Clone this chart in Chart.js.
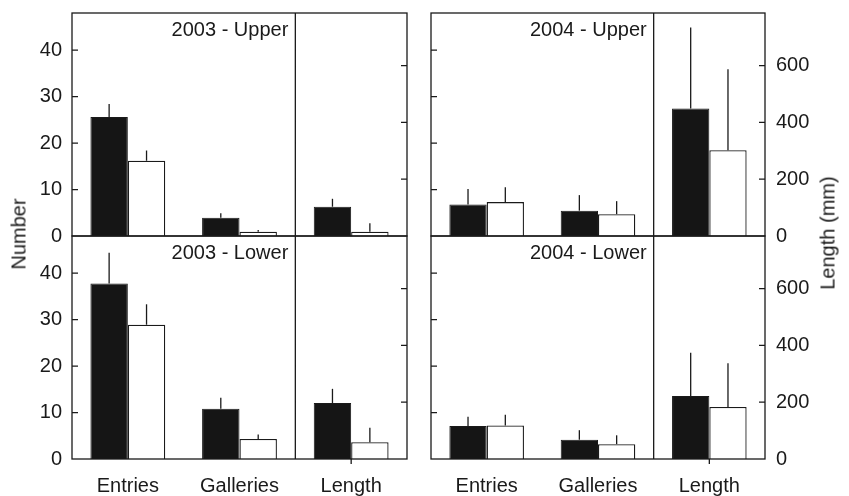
<!DOCTYPE html>
<html>
<head>
<meta charset="utf-8">
<script src="https://cdn.jsdelivr.net/npm/chart.js@4.4.1/dist/chart.umd.min.js"></script>
<style>
  html, body { margin: 0; padding: 0; background: #fff; }
  #wrap { position: relative; width: 849px; height: 496px; overflow: hidden; }
  #wrap canvas { position: absolute; }
  .axis-title {
    position: absolute;
    font: 20px "Liberation Sans", Arial, sans-serif;
    color: #1a1a1a;
    white-space: nowrap;
    transform: translate(-50%, -50%) rotate(-90deg);
  }
</style>
</head>
<body>
<div id="wrap">
  <canvas id="p0" width="420" height="250" style="left:0;top:0;width:420px;height:250px"></canvas>
  <canvas id="p1" width="420" height="270" style="left:0;top:226px;width:420px;height:270px"></canvas>
  <canvas id="p2" width="429" height="250" style="left:420px;top:0;width:429px;height:250px"></canvas>
  <canvas id="p3" width="429" height="270" style="left:420px;top:226px;width:429px;height:270px"></canvas>
  <div class="axis-title" style="left:19px;top:234px">Number</div>
  <div class="axis-title" style="left:828px;top:233px">Length (mm)</div>
</div>
<script>
const categories = ['Entries', 'Galleries', 'Length'];
const panelTitles = ['2003 - Upper', '2003 - Lower', '2004 - Upper', '2004 - Lower'];

// per panel: Entries, Galleries (number), Length (mm)
const blackMean = [
    [25.6, 3.95, 103],
    [37.8, 10.8, 197],
    [6.8, 5.45, 449],
    [7.1, 4.15, 222],
];
const blackErr = [
    [2.8, 0.95, 28],
    [6.6, 2.4, 50],
    [3.3, 3.35, 285],
    [2.0, 2.05, 152],
];
const whiteMean = [
    [16.2, 0.9, 15],
    [28.9, 4.3, 59],
    [7.3, 4.7, 302],
    [7.2, 3.2, 183],
];
const whiteErr = [
    [2.2, 0.4, 30],
    [4.4, 1.0, 51],
    [3.2, 2.8, 285],
    [2.3, 1.9, 154],
];

const numberTicks = [0, 10, 20, 30, 40];
const lengthTicks = [0, 200, 400, 600];
const numberMax = 48;
const lengthMax = 785;

const ink = '#1a1a1a';
const fontFamily = '"Liberation Sans", Arial, sans-serif';
Chart.defaults.font.family = fontFamily;
Chart.defaults.font.size = 20;
Chart.defaults.color = ink;

// no label overhang padding, so the plot area sits where the layout says
const noOverhang = (s) => {
    s.paddingTop = 0;
    s.paddingBottom = 0;
    s.paddingLeft = 0;
    s.paddingRight = 0;
};

// frame, separator, inner ticks, error bars and panel title
const deco = (panel, lower) => ({
    id: 'deco' + panel,
    afterDatasetsDraw(chart) {
        const { ctx, chartArea: a, scales } = chart;
        const x = scales.x, y = scales.y, y2 = scales.y2;
        ctx.save();
        ctx.strokeStyle = ink;
        ctx.lineWidth = 1.3;

        chart.data.datasets.forEach((ds, i) => {
            const sc = ds.yAxisID === 'y2' ? y2 : y;
            chart.getDatasetMeta(i).data.forEach((bar, j) => {
                const v = ds.data[j];
                if (v === null) return;
                const top = sc.getPixelForValue(v + ds.errors[j]);
                ctx.beginPath();
                ctx.moveTo(bar.x, bar.y);
                ctx.lineTo(bar.x, top);
                ctx.stroke();
            });
        });

        ctx.strokeRect(a.left, a.top, a.width, a.height);
        const sx = (x.getPixelForValue(1) + x.getPixelForValue(2)) / 2;
        ctx.beginPath();
        ctx.moveTo(sx, a.top);
        ctx.lineTo(sx, a.bottom);
        numberTicks.filter(v => v > 0).forEach((v) => {
            const py = y.getPixelForValue(v);
            ctx.moveTo(a.left, py);
            ctx.lineTo(a.left + 6, py);
        });
        lengthTicks.filter(v => v > 0).forEach((v) => {
            const py = y2.getPixelForValue(v);
            ctx.moveTo(a.right - 6, py);
            ctx.lineTo(a.right, py);
        });
        if (lower) {
            const lx = x.getPixelForValue(2);
            ctx.moveTo(lx, a.bottom);
            ctx.lineTo(lx, a.bottom + 5);
        }
        ctx.stroke();

        ctx.fillStyle = ink;
        ctx.font = '20px ' + fontFamily;
        ctx.textAlign = 'right';
        ctx.textBaseline = 'alphabetic';
        ctx.fillText(panelTitles[panel], sx - 7, a.top + 23);
        ctx.restore();
    }
});

const makeChart = (id, panel, left, lower) => {
    const b = blackMean[panel], be = blackErr[panel];
    const w = whiteMean[panel], we = whiteErr[panel];
    const black = { backgroundColor: '#151515', borderColor: ink, borderWidth: 1 };
    const white = { backgroundColor: '#ffffff', borderColor: ink, borderWidth: 1.3 };

    new Chart(document.getElementById(id), {
        type: 'bar',
        data: {
            labels: categories,
            datasets: [
                { ...black, yAxisID: 'y', data: [b[0], b[1], null], errors: [be[0], be[1], null] },
                { ...white, yAxisID: 'y', data: [w[0], w[1], null], errors: [we[0], we[1], null] },
                { ...black, yAxisID: 'y2', data: [null, null, b[2]], errors: [null, null, be[2]] },
                { ...white, yAxisID: 'y2', data: [null, null, w[2]], errors: [null, null, we[2]] },
            ],
        },
        options: {
            responsive: false,
            animation: false,
            events: [],
            layout: { padding: { top: lower ? 10 : 13, bottom: lower ? 0 : 14, left: 0, right: 0 } },
            datasets: {
                bar: { categoryPercentage: 0.67, barPercentage: 1, skipNull: true, borderSkipped: 'bottom' },
            },
            plugins: { legend: { display: false }, tooltip: { enabled: false } },
            scales: {
                x: {
                    display: lower,
                    grid: { display: false, drawTicks: false },
                    border: { display: false },
                    ticks: { padding: 15, maxRotation: 0, autoSkip: false },
                    afterFit: (s) => { s.height = lower ? 37 : 0; noOverhang(s); },
                },
                y: {
                    position: 'left',
                    min: 0,
                    max: numberMax,
                    afterBuildTicks: (s) => { s.ticks = numberTicks.map(v => ({ value: v })); },
                    grid: { display: false, drawTicks: false },
                    border: { display: false },
                    ticks: { display: left, padding: 10 },
                    afterFit: (s) => { s.width = left ? 72 : 11; noOverhang(s); },
                },
                y2: {
                    position: 'right',
                    min: 0,
                    max: lengthMax,
                    afterBuildTicks: (s) => { s.ticks = lengthTicks.map(v => ({ value: v })); },
                    grid: { display: false, drawTicks: false },
                    border: { display: false },
                    ticks: { display: !left, padding: 11 },
                    afterFit: (s) => { s.width = left ? 13 : 84; noOverhang(s); },
                },
            },
        },
        plugins: [deco(panel, lower)],
    });
};

makeChart('p0', 0, true, false);
makeChart('p1', 1, true, true);
makeChart('p2', 2, false, false);
makeChart('p3', 3, false, true);
</script>
</body>
</html>
